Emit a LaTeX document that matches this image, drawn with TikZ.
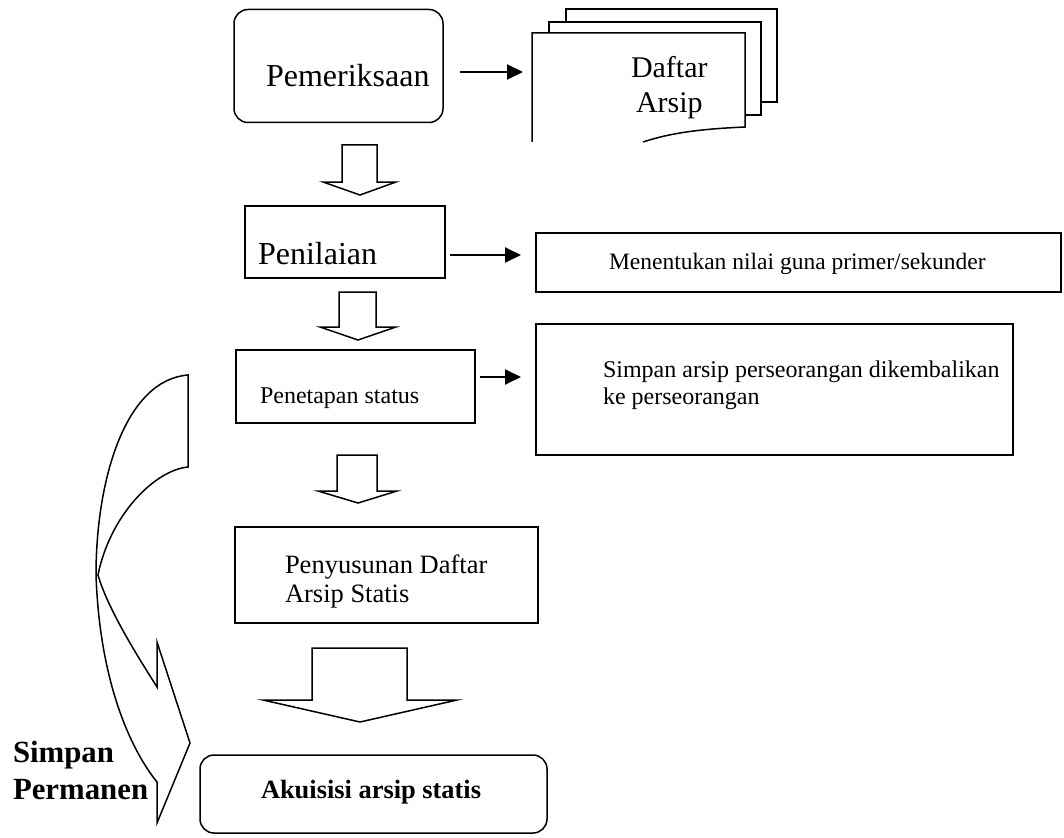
\documentclass[tikz,border=0pt]{standalone}
\usepackage{fontspec}
\setmainfont{Liberation Serif}
\usetikzlibrary{arrows.meta}

\newcommand{\fs}[2]{\fontsize{#1}{#2}\selectfont}

\tikzset{
  box/.style={draw, line width=1.5pt, inner sep=0pt, outer sep=0pt},
  rbox/.style={box, rounded corners=14pt},
  lbl/.style={inner sep=0pt, outer sep=0pt},
  conn/.style={line width=1.9pt, -{Triangle[length=16pt,width=15pt]}},
  hollow/.style={line width=1.5pt, fill=white, line join=miter},
}

\begin{document}
\begin{tikzpicture}[x=1pt, y=-1pt]
	\useasboundingbox (0,0) rectangle (1064,837);

	% Kotak
	\node[rbox, minimum width=209, minimum height=113] (pem) at (338.5,66)   {};
	\node[box,  minimum width=200, minimum height=72]  (pen) at (345,242)    {};
	\node[box,  minimum width=525, minimum height=59]  (men) at (798.5,262.5) {};
	\node[box,  minimum width=239, minimum height=73]  (pet) at (355.5,386.5) {};
	\node[box,  minimum width=477, minimum height=131] (smp) at (774.5,389.5) {};
	\node[box,  minimum width=303, minimum height=96]  (pny) at (386.5,575)  {};
	\node[rbox, minimum width=347, minimum height=78]  (aks) at (373.5,794) {};

	% Tumpukan dokumen
	\filldraw[hollow] (566,9) rectangle (777,102);
	\filldraw[hollow] (549,22) rectangle (761,115);
	\fill[white] (532,33) -- (745,33) -- (745,127) .. controls (700,129) and (670,133) .. (643,142) -- (532,142) -- cycle;
	\draw[hollow, fill=none] (532,142) -- (532,33) -- (745,33) -- (745,127) .. controls (700,129) and (670,133) .. (643,142);
	\coordinate (docl) at (532,72);

	% Teks
	\node[lbl, anchor=base west, font=\fs{32}{38}]   (pemtxt) at (266,87)  {Pemeriksaan};
	\node[lbl, anchor=base west, font=\fs{30}{35}]   (doc1)   at (631,78)  {Daftar};
	\node[lbl, anchor=base west, font=\fs{30}{35}]   (doc2)   at (636,113) {Arsip};
	\node[lbl, anchor=base west, font=\fs{32}{38}]   (pentxt) at (258,264) {Penilaian};
	\node[lbl, anchor=base west, font=\fs{23.5}{28}] (mentxt) at (609,269) {Menentukan nilai guna primer/sekunder};
	\node[lbl, anchor=base west, font=\fs{24}{28}]   (pettxt) at (260,403) {Penetapan status};
	\node[lbl, anchor=base west, font=\fs{24}{28}]   (smp1)   at (603,377) {Simpan arsip perseorangan dikembalikan};
	\node[lbl, anchor=base west, font=\fs{24}{28}]   (smp2)   at (603,404) {ke perseorangan};
	\node[lbl, anchor=base west, font=\fs{26.5}{30}] (pny1)   at (285,573) {Penyusunan Daftar};
	\node[lbl, anchor=base west, font=\fs{26.5}{30}] (pny2)   at (285,602) {Arsip Statis};
	\node[lbl, anchor=base west, font=\bfseries\fs{26.4}{30}] (akstxt) at (261,798) {Akuisisi arsip statis};
	\node[lbl, anchor=base west, font=\bfseries\fs{30.8}{38}] (perm1) at (13,762) {Simpan};
	\node[lbl, anchor=base west, font=\bfseries\fs{30.8}{38}] (perm2) at (13,799) {Permanen};

	% Panah
	\coordinate (r2) at (0,255);
	\coordinate (r3) at (0,377);
	\draw[conn, shorten <=17pt, shorten >=9pt]  (pem.east |- docl) -- (docl);
	\draw[conn, shorten <=5pt,  shorten >=15pt] (pen.east |- r2) -- (men.west |- r2);
	\draw[conn, shorten <=5pt,  shorten >=15pt] (pet.east |- r3) -- (smp.west |- r3);

	% Panah blok
	\draw[hollow] (342,145) -- (377,145) -- (377,182) -- (396,182) -- (360,195) -- (323,182) -- (342,182) -- cycle;
	\draw[hollow] (339,292) -- (376,292) -- (376,327) -- (396,327) -- (358,340) -- (320,327) -- (339,327) -- cycle;
	\draw[hollow] (337,455) -- (377,455) -- (377,491) -- (397,491) -- (358,503) -- (318,491) -- (337,491) -- cycle;
	\draw[hollow] (312,648) -- (407,648) -- (407,700) -- (457,700) -- (360,722) -- (263,700) -- (312,700) -- cycle;

	% Panah lengkung
	\draw[hollow] (188,375) -- (188,467)
		.. controls (155,470) and (110,515) .. (98,575)
		.. controls (108,610) and (140,660) .. (157,687)
		-- (157,642) -- (190,743) -- (157,823) -- (157,782)
		.. controls (135,755) and (100,690) .. (96,575)
		.. controls (96,480) and (125,380) .. cycle;
\end{tikzpicture}
\end{document}
